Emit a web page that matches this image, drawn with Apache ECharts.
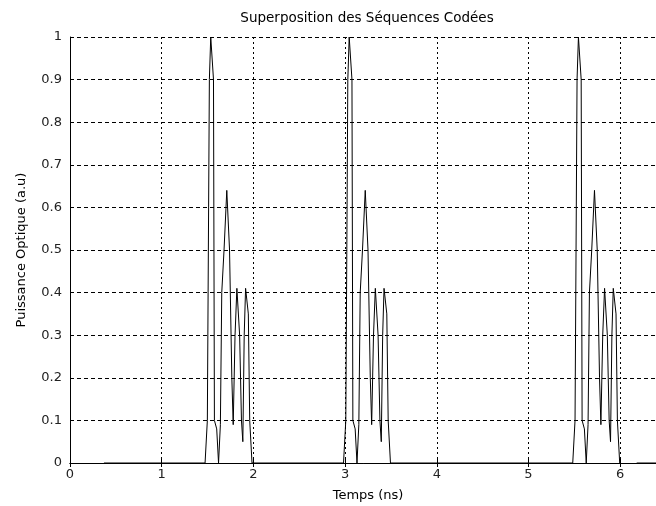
<!DOCTYPE html>
<html>
<head>
<meta charset="utf-8">
<script src="https://cdn.jsdelivr.net/npm/echarts@6/dist/echarts.min.js"></script>
<style>html,body{margin:0;padding:0;background:#fff;}#c{width:656px;height:506px;}</style>
</head>
<body>
<div id="c"></div>
<script>
const titleText = "Superposition des Séquences Codées";
const xLabel = "Temps (ns)";
const yLabel = "Puissance Optique (a.u)";
const xTicks = [0, 1, 2, 3, 4, 5, 6];
const yTicks = [0, 0.1, 0.2, 0.3, 0.4, 0.5, 0.6, 0.7, 0.8, 0.9, 1];

const leadT = [0.37, 1.0];
const leadY = [0, 0];
const group1T = [1.473,1.498,1.52,1.535,1.555,1.565,1.575,1.60,1.62,1.64,1.655,1.68,1.71,1.725,1.74,1.765,1.78,1.80,1.82,1.835,1.85,1.87,1.885,1.90,1.915,1.93,1.945,1.96,1.985];
const group1Y = [0,0.1,0.9,1.0,1.0,0.9,0.1,0.08,0,0.09,0.4,0.5,0.64,0.64,0.5,0.2,0.09,0.3,0.41,0.41,0.3,0.1,0.05,0.3,0.41,0.41,0.35,0.1,0];
const group2T = [2.983,3.008,3.03,3.045,3.065,3.075,3.085,3.11,3.13,3.15,3.165,3.19,3.22,3.235,3.25,3.275,3.29,3.31,3.33,3.345,3.36,3.38,3.395,3.41,3.425,3.44,3.455,3.47,3.495];
const group2Y = [0,0.1,0.9,1.0,1.0,0.9,0.1,0.08,0,0.09,0.4,0.5,0.64,0.64,0.5,0.2,0.09,0.3,0.41,0.41,0.3,0.1,0.05,0.3,0.41,0.41,0.35,0.1,0];
const group3T = [5.483,5.508,5.53,5.545,5.565,5.575,5.585,5.61,5.63,5.65,5.665,5.69,5.72,5.735,5.75,5.775,5.79,5.81,5.83,5.845,5.86,5.88,5.895,5.91,5.925,5.94,5.955,5.97,5.995];
const group3Y = [0,0.1,0.9,1.0,1.0,0.9,0.1,0.08,0,0.09,0.4,0.5,0.64,0.64,0.5,0.2,0.09,0.3,0.41,0.41,0.3,0.1,0.05,0.3,0.41,0.41,0.35,0.1,0];
const tailT = [6.18, 6.5];
const tailY = [0, 0];

function pairs(t, y) { return t.map((v, i) => [v, y[i]]); }
const seriesData = [].concat(
  pairs(leadT, leadY),
  pairs(group1T, group1Y),
  pairs(group2T, group2Y),
  pairs(group3T, group3Y),
  [[6.0, null]],
  pairs(tailT, tailY)
);

const FONT = "DejaVu Sans";
const FS = 13;
const chart = echarts.init(document.getElementById('c'), null, {renderer: 'canvas'});
chart.setOption({
  animation: false,
  backgroundColor: '#fff',
  graphic: [{
    type: 'text', x: 367, y: 18,
    style: {text: titleText, fill: '#000', font: '13.5px "DejaVu Sans"', textAlign: 'center', textVerticalAlign: 'middle'}
  }],
  grid: {left: 70, top: 37, height: 426, width: 596, outerBoundsMode: 'none', containLabel: false},
  xAxis: [{
    type: 'value', min: 0, max: 6.5, interval: 1,
    axisLine: {show: true, onZero: false, lineStyle: {color: '#000', width: 1}},
    axisTick: {show: true, inside: true, length: 4, lineStyle: {color: '#000'}},
    axisLabel: {color: '#222', fontFamily: FONT, fontSize: FS, margin: 5, showMaxLabel: false,
      formatter: v => xTicks.indexOf(v) >= 0 ? String(v) : ''},
    splitLine: {show: true, lineStyle: {color: '#000', type: [2, 3], width: 1}},
    name: xLabel, nameLocation: 'middle', nameGap: 26,
    nameTextStyle: {color: '#000', fontFamily: FONT, fontSize: FS}
  }, {
    type: 'value', position: 'top', min: 0, max: 6.5, interval: 1,
    axisLine: {show: true, lineStyle: {color: '#000', width: 1}},
    axisTick: {show: true, inside: true, length: 4, lineStyle: {color: '#000'}},
    axisLabel: {show: false}, splitLine: {show: false}
  }],
  yAxis: [{
    type: 'value', min: 0, max: 1, interval: 0.1,
    axisLine: {show: true, lineStyle: {color: '#000', width: 1}},
    axisTick: {show: true, inside: true, length: 4, lineStyle: {color: '#000'}},
    axisLabel: {color: '#222', fontFamily: FONT, fontSize: FS, margin: 8,
      formatter: v => { const r = Math.round(v * 10) / 10; return yTicks.indexOf(r) >= 0 ? String(r) : ''; }},
    splitLine: {show: true, lineStyle: {color: '#000', type: [4, 3], width: 1}},
    name: yLabel, nameLocation: 'middle', nameGap: 42, nameRotate: 90,
    nameTextStyle: {color: '#000', fontFamily: FONT, fontSize: FS}
  }],
  series: [{
    type: 'line', data: seriesData, showSymbol: false, connectNulls: false,
    lineStyle: {color: '#000', width: 1}, clip: true
  }]
});
</script>
</body>
</html>
